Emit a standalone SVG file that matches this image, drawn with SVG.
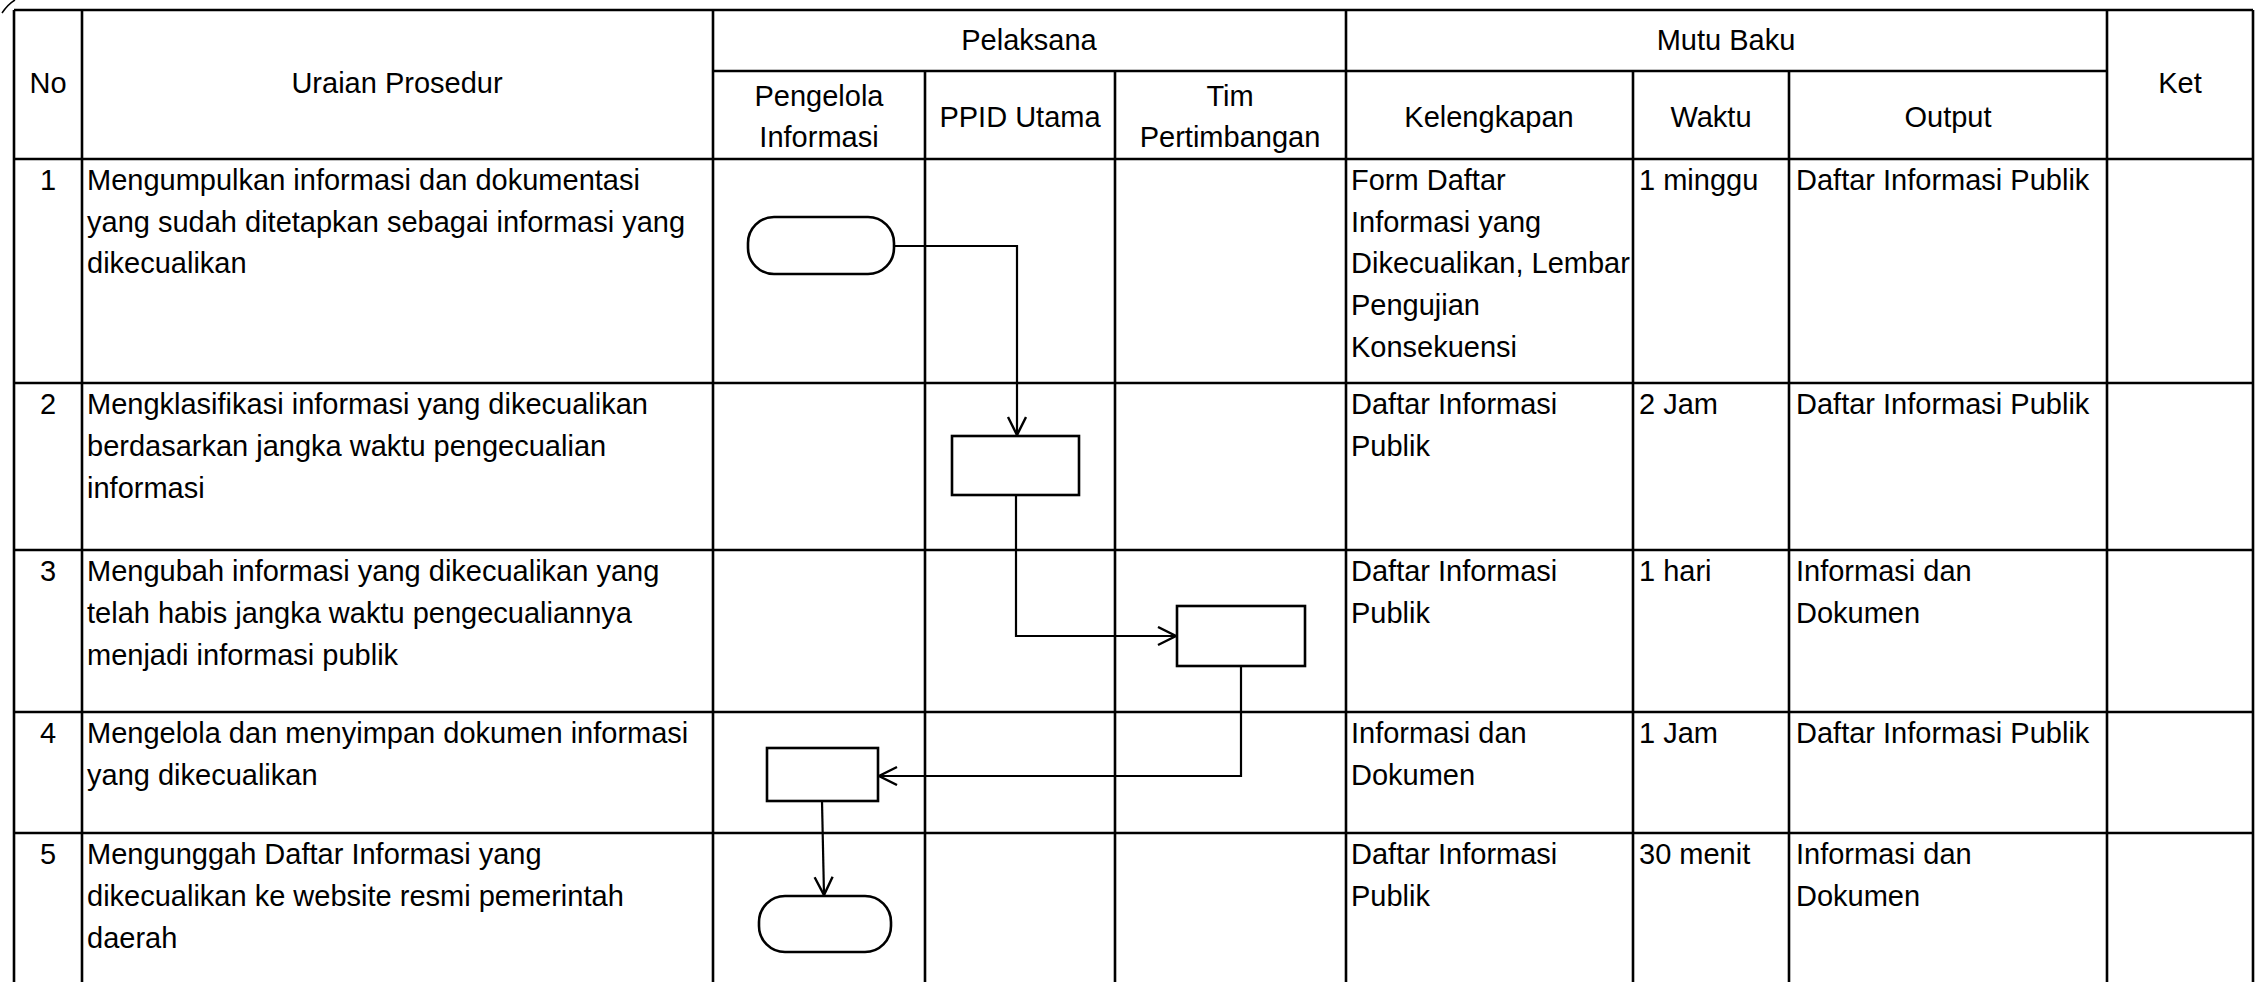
<svg xmlns="http://www.w3.org/2000/svg" width="2267" height="982" viewBox="0 0 2267 982">
<style>
  text { font-family: "Liberation Sans", Arial, sans-serif; font-size: 29px; fill: #000; }
  .c { text-anchor: middle; }
  .grid line { stroke: #000; stroke-width: 2.6; }
  .outer { fill: none; stroke: #000; stroke-width: 3; }
  .shape { fill: #fff; stroke: #000; stroke-width: 2.6; }
  .conn { fill: none; stroke: #000; stroke-width: 2.2; }
</style>
<defs>
  <marker id="arrow" markerUnits="userSpaceOnUse" markerWidth="24" markerHeight="24" refX="19" refY="10" orient="auto">
    <path d="M1,1 L19,10 L1,19" fill="none" stroke="#000" stroke-width="2.4"/>
  </marker>
</defs>
<rect width="2267" height="982" fill="#fff"/>
<path d="M2,13 Q8,4 15,0" fill="none" stroke="#000" stroke-width="1.5"/>
<g id="table" class="grid">
  <line x1="14" y1="10" x2="2253" y2="10"/>
  <line x1="713" y1="71" x2="2107" y2="71"/>
  <line x1="14" y1="159" x2="2253" y2="159"/>
  <line x1="14" y1="383" x2="2253" y2="383"/>
  <line x1="14" y1="550" x2="2253" y2="550"/>
  <line x1="14" y1="712" x2="2253" y2="712"/>
  <line x1="14" y1="833" x2="2253" y2="833"/>
  <line x1="14" y1="10" x2="14" y2="982"/>
  <line x1="82" y1="10" x2="82" y2="982"/>
  <line x1="713" y1="10" x2="713" y2="982"/>
  <line x1="925" y1="71" x2="925" y2="982"/>
  <line x1="1115" y1="71" x2="1115" y2="982"/>
  <line x1="1346" y1="10" x2="1346" y2="982"/>
  <line x1="1633" y1="71" x2="1633" y2="982"/>
  <line x1="1789" y1="71" x2="1789" y2="982"/>
  <line x1="2107" y1="10" x2="2107" y2="982"/>
  <line x1="2253" y1="10" x2="2253" y2="982"/>
</g>
<g id="header">
  <text class="c" x="48" y="93">No</text>
  <text class="c" x="397" y="93">Uraian Prosedur</text>
  <text class="c" x="1029" y="50">Pelaksana</text>
  <text class="c" x="1726" y="50">Mutu Baku</text>
  <text class="c" x="2180" y="93">Ket</text>
  <text class="c" x="819" y="106">Pengelola</text>
  <text class="c" x="819" y="147">Informasi</text>
  <text class="c" x="1020" y="127">PPID Utama</text>
  <text class="c" x="1230" y="106">Tim</text>
  <text class="c" x="1230" y="147">Pertimbangan</text>
  <text class="c" x="1489" y="127">Kelengkapan</text>
  <text class="c" x="1711" y="127">Waktu</text>
  <text class="c" x="1948" y="127">Output</text>
</g>
<g id="row1">
  <text class="c" x="48" y="190">1</text>
  <text x="87" y="190">Mengumpulkan informasi dan dokumentasi</text>
  <text x="87" y="232">yang sudah ditetapkan sebagai informasi yang</text>
  <text x="87" y="273">dikecualikan</text>
  <text x="1351" y="190">Form Daftar</text>
  <text x="1351" y="232">Informasi yang</text>
  <text x="1351" y="273">Dikecualikan, Lembar</text>
  <text x="1351" y="315">Pengujian</text>
  <text x="1351" y="357">Konsekuensi</text>
  <text x="1639" y="190">1 minggu</text>
  <text x="1796" y="190">Daftar Informasi Publik</text>
</g>
<g id="row2">
  <text class="c" x="48" y="414">2</text>
  <text x="87" y="414">Mengklasifikasi informasi yang dikecualikan</text>
  <text x="87" y="456">berdasarkan jangka waktu pengecualian</text>
  <text x="87" y="498">informasi</text>
  <text x="1351" y="414">Daftar Informasi</text>
  <text x="1351" y="456">Publik</text>
  <text x="1639" y="414">2 Jam</text>
  <text x="1796" y="414">Daftar Informasi Publik</text>
</g>
<g id="row3">
  <text class="c" x="48" y="581">3</text>
  <text x="87" y="581">Mengubah informasi yang dikecualikan yang</text>
  <text x="87" y="623">telah habis jangka waktu pengecualiannya</text>
  <text x="87" y="665">menjadi informasi publik</text>
  <text x="1351" y="581">Daftar Informasi</text>
  <text x="1351" y="623">Publik</text>
  <text x="1639" y="581">1 hari</text>
  <text x="1796" y="581">Informasi dan</text>
  <text x="1796" y="623">Dokumen</text>
</g>
<g id="row4">
  <text class="c" x="48" y="743">4</text>
  <text x="87" y="743">Mengelola dan menyimpan dokumen informasi</text>
  <text x="87" y="785">yang dikecualikan</text>
  <text x="1351" y="743">Informasi dan</text>
  <text x="1351" y="785">Dokumen</text>
  <text x="1639" y="743">1 Jam</text>
  <text x="1796" y="743">Daftar Informasi Publik</text>
</g>
<g id="row5">
  <text class="c" x="48" y="864">5</text>
  <text x="87" y="864">Mengunggah Daftar Informasi yang</text>
  <text x="87" y="906">dikecualikan ke website resmi pemerintah</text>
  <text x="87" y="948">daerah</text>
  <text x="1351" y="864">Daftar Informasi</text>
  <text x="1351" y="906">Publik</text>
  <text x="1639" y="864">30 menit</text>
  <text x="1796" y="864">Informasi dan</text>
  <text x="1796" y="906">Dokumen</text>
</g>
<g id="connectors">
  <path class="conn" d="M894,246 H1017 V435" marker-end="url(#arrow)"/>
  <path class="conn" d="M1016,495 V636 H1176" marker-end="url(#arrow)"/>
  <path class="conn" d="M1241,666 V776 H879" marker-end="url(#arrow)"/>
  <path class="conn" d="M822,801 L824,895" marker-end="url(#arrow)"/>
</g>
<g id="node-start">
  <rect class="shape" x="748" y="217" width="146" height="57" rx="26" ry="26"/>
</g>
<g id="node-ppid">
  <rect class="shape" x="952" y="436" width="127" height="59"/>
</g>
<g id="node-tim">
  <rect class="shape" x="1177" y="606" width="128" height="60"/>
</g>
<g id="node-pengelola">
  <rect class="shape" x="767" y="748" width="111" height="53"/>
</g>
<g id="node-end">
  <rect class="shape" x="759" y="896" width="132" height="56" rx="26" ry="26"/>
</g>
</svg>
